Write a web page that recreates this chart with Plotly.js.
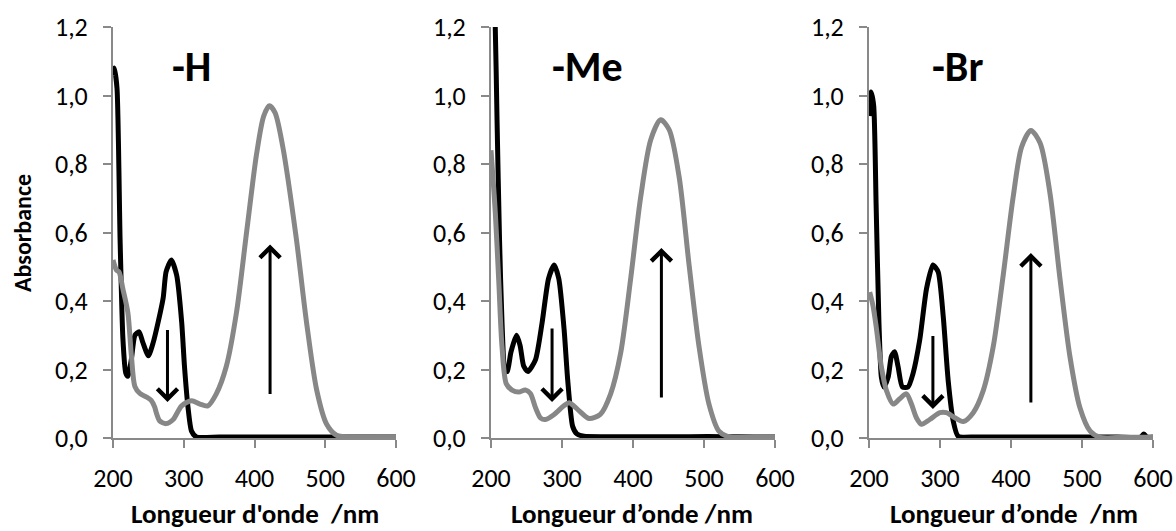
<!DOCTYPE html>
<html><head><meta charset="utf-8">
<script src="https://cdn.plot.ly/plotly-3.0.1.min.js"></script>
<style>html,body{margin:0;padding:0;background:#fff}#chart{width:1176px;height:531px}</style>
</head><body><div id="chart"></div>
<script>
// ---------- data ----------
const panelNames = ['-H', '-Me', '-Br'];
const xTitles = ["Longueur d'onde\u00A0 /nm", "Longueur d\u2019onde /nm", "Longueur d\u2019onde\u00A0 /nm"];
const yTitle = 'Absorbance';
const xTickVals = [200, 300, 400, 500, 600];
const yTickVals = [0, 0.2, 0.4, 0.6, 0.8, 1.0, 1.2];

// -H
const hBlackX = [200.5, 202, 205.7, 210, 214, 218, 221, 226, 231, 237, 242, 250, 257, 264, 271, 275, 282.5, 290, 297, 301, 306, 311, 318, 350, 400, 450, 500, 550, 600];
const hBlackY = [1.06, 1.08, 1.02, 0.58, 0.29, 0.19, 0.18, 0.23, 0.30, 0.31, 0.28, 0.24, 0.28, 0.34, 0.41, 0.485, 0.52, 0.475, 0.34, 0.21, 0.09, 0.02, 0.003, 0.003, 0.003, 0.003, 0.003, 0.003, 0.003];
const hGrayX = [200, 205, 208.5, 214, 221, 226, 231, 238, 247, 254, 259, 261, 266, 275, 285, 297, 311, 323, 334, 346, 360, 374.5, 389, 403, 413, 421, 429, 440, 459, 473.6, 488, 502, 516, 540, 570, 600];
const hGrayY = [0.52, 0.49, 0.485, 0.435, 0.366, 0.24, 0.15, 0.13, 0.12, 0.11, 0.09, 0.075, 0.05, 0.042, 0.054, 0.094, 0.109, 0.099, 0.094, 0.129, 0.208, 0.366, 0.604, 0.83, 0.94, 0.97, 0.95, 0.85, 0.584, 0.337, 0.139, 0.04, 0.008, 0.002, 0.002, 0.002];

// -Me
const meBlackX = [202, 206, 208.5, 212, 215.5, 220, 223, 228, 236, 241, 246, 252, 262.6, 272, 281, 289, 295.5, 303, 308, 315, 321, 331, 380, 430, 480, 530, 570, 600];
const meBlackY = [1.40, 1.20, 0.93, 0.58, 0.337, 0.194, 0.194, 0.25, 0.30, 0.27, 0.21, 0.194, 0.228, 0.337, 0.465, 0.505, 0.465, 0.316, 0.17, 0.034, 0.012, 0.005, 0.004, 0.004, 0.004, 0.004, 0.003, 0.003];
const meGrayX = [200, 206, 211, 215.5, 221.6, 229.6, 239, 248.5, 255.5, 262.6, 270, 276.7, 288.5, 302.6, 310, 323.8, 338, 354, 368.5, 382.6, 396.7, 410.8, 425, 439, 451, 465, 479, 493, 507, 521, 533, 560, 600];
const meGrayY = [0.84, 0.66, 0.455, 0.267, 0.158, 0.14, 0.134, 0.14, 0.13, 0.089, 0.058, 0.054, 0.068, 0.094, 0.103, 0.08, 0.057, 0.069, 0.129, 0.248, 0.465, 0.703, 0.871, 0.929, 0.90, 0.762, 0.505, 0.267, 0.099, 0.02, 0.005, 0.002, 0.002];

// -Br
const brBlackX = [201, 203, 206.6, 210, 214, 217.4, 221, 227, 231.5, 236, 241, 247, 255, 262, 271.5, 281, 290, 297.4, 304.5, 311.5, 318.6, 325.6, 350, 400, 450, 500, 550, 583, 587, 591, 600];
const brBlackY = [0.94, 1.01, 0.97, 0.683, 0.337, 0.178, 0.149, 0.178, 0.238, 0.252, 0.208, 0.149, 0.149, 0.188, 0.287, 0.436, 0.505, 0.485, 0.356, 0.168, 0.05, 0.005, 0.003, 0.003, 0.003, 0.003, 0.003, 0.003, 0.012, 0.003, 0.003];
const brGrayX = [201, 205.6, 210, 217.4, 224.5, 234, 243, 252.7, 259.8, 266.8, 274, 285.6, 299.8, 309, 321, 332.7, 346.8, 361, 375, 389, 403, 415, 428, 441, 455, 469, 483, 497, 511.5, 525.6, 560, 600];
const brGrayY = [0.426, 0.386, 0.327, 0.208, 0.139, 0.099, 0.114, 0.129, 0.099, 0.059, 0.04, 0.054, 0.074, 0.074, 0.059, 0.048, 0.074, 0.139, 0.267, 0.475, 0.703, 0.85, 0.898, 0.861, 0.713, 0.465, 0.238, 0.089, 0.02, 0.002, 0.002, 0.002];

// arrows (per panel): down arrow x, from, to ; up arrow x, from, to
const downArrowX = [277, 286, 290];
const downArrowFrom = [0.32, 0.324, 0.302];
const downArrowTo = [0.105, 0.105, 0.085];
const upArrowX = [422, 440, 428];
const upArrowFrom = [0.124, 0.114, 0.099];
const upArrowTo = [0.565, 0.555, 0.54];

// panel label positions (data coords)
const labelX = [311, 336, 324];
const labelY = [1.085, 1.085, 1.085];

// ---------- layout ----------
const W = 1176, H = 531;
const plotLeft = [113, 491, 869], plotRight = [396, 775, 1153];
const plotTop = 27, plotBottom = 438;
const xTitleCenter = [255, 632, 1014];
const FONT = 'Carlito, Calibri, Lato, sans-serif';
const axisGray = '#898989';
const curveGray = '#878787';

const blacks = [[hBlackX, hBlackY], [meBlackX, meBlackY], [brBlackX, brBlackY]];
const grays = [[hGrayX, hGrayY], [meGrayX, meGrayY], [brGrayX, brGrayY]];

const traces = [];
const layout = {
  width: W, height: H,
  margin: {l: 0, r: 0, t: 0, b: 0},
  paper_bgcolor: '#fff', plot_bgcolor: 'rgba(0,0,0,0)',
  showlegend: false,
  separators: ', ',
  font: {family: FONT, color: '#000', size: 26},
  annotations: []
};

for (let i = 0; i < 3; i++) {
  const sfx = i === 0 ? '' : String(i + 1);
  const xa = 'x' + sfx, ya = 'y' + sfx;
  traces.push({x: blacks[i][0], y: blacks[i][1], xaxis: xa, yaxis: ya, type: 'scatter', mode: 'lines',
    line: {color: '#000', width: 5, shape: 'spline', smoothing: 0.6}, hoverinfo: 'skip'});
  traces.push({x: grays[i][0], y: grays[i][1], xaxis: xa, yaxis: ya, type: 'scatter', mode: 'lines',
    line: {color: curveGray, width: 5, shape: 'spline', smoothing: 0.8}, hoverinfo: 'skip'});

  layout['xaxis' + sfx] = {
    domain: [plotLeft[i] / W, plotRight[i] / W], anchor: ya,
    range: [200, 600], tickvals: xTickVals, ticks: 'outside', ticklen: 8, tickwidth: 2,
    tickcolor: axisGray, showline: true, linecolor: axisGray, linewidth: 2,
    showgrid: false, zeroline: false, layer: 'below traces', ticklabelstandoff: 8,
    tickfont: {family: FONT, size: 26, color: '#000'}
  };
  layout['yaxis' + sfx] = {
    domain: [1 - plotBottom / H, 1 - plotTop / H], anchor: xa,
    range: [0, 1.2], tickvals: yTickVals, tickformat: '.1f', ticks: 'outside', ticklen: 8, tickwidth: 2,
    tickcolor: axisGray, showline: true, linecolor: axisGray, linewidth: 2,
    showgrid: false, zeroline: false, layer: 'below traces', ticklabelstandoff: 10,
    tickfont: {family: FONT, size: 26, color: '#000'}
  };

  // panel label
  layout.annotations.push({xref: xa, yref: ya, x: labelX[i], y: labelY[i], text: '<b>' + panelNames[i] + '</b>',
    showarrow: false, font: {family: FONT, size: 42, color: '#000'}, xanchor: 'center', yanchor: 'middle'});
  // x title
  layout.annotations.push({xref: 'paper', yref: 'paper', x: xTitleCenter[i] / W, y: 1 - 513 / H,
    text: '<b>' + xTitles[i] + '</b>', showarrow: false, font: {family: FONT, size: 27, color: '#000'},
    xanchor: 'center', yanchor: 'middle'});
  // arrows
  layout.annotations.push({xref: xa, yref: ya, axref: xa, ayref: ya, x: downArrowX[i], y: downArrowTo[i],
    ax: downArrowX[i], ay: downArrowFrom[i], text: '', showarrow: true, arrowhead: 4, arrowsize: 1.3,
    arrowwidth: 3, arrowcolor: '#000', standoff: 0, startstandoff: 0});
  layout.annotations.push({xref: xa, yref: ya, axref: xa, ayref: ya, x: upArrowX[i], y: upArrowTo[i],
    ax: upArrowX[i], ay: upArrowFrom[i], text: '', showarrow: true, arrowhead: 4, arrowsize: 1.3,
    arrowwidth: 3, arrowcolor: '#000', standoff: 0, startstandoff: 0});
}
// y title
layout.annotations.push({xref: 'paper', yref: 'paper', x: 22 / W, y: 1 - 233 / H, text: '<b>' + yTitle + '</b>',
  textangle: -90, showarrow: false, font: {family: FONT, size: 24, color: '#000'}, xanchor: 'center', yanchor: 'middle'});

Plotly.newPlot('chart', traces, layout, {staticPlot: true, displayModeBar: false});
</script></body></html>
